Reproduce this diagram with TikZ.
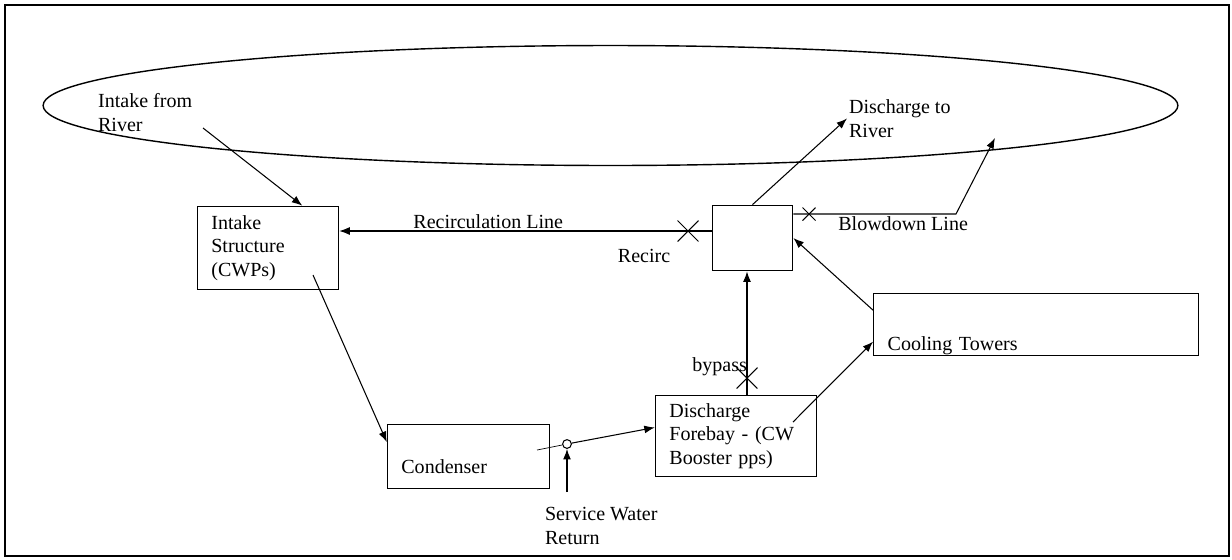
\documentclass[tikz,border=0pt]{standalone}
\usepackage{fontspec}
\setmainfont{Liberation Serif}
\usetikzlibrary{positioning,arrows.meta,shapes.misc}

\begin{document}
\begin{tikzpicture}[
  x=0.02cm, y=-0.02cm,
  txt/.style={font=\fontsize{11.4}{13.4}\selectfont, inner sep=1pt, align=left},
  unit/.style={rectangle, draw, line width=0.6pt, font=\fontsize{11.4}{13.4}\selectfont, align=left, inner xsep=8pt, inner ysep=2pt},
  valve/.style={cross out, draw, line width=0.6pt, inner sep=0pt, minimum size=#1},
  valve/.default=11.3pt,
  junction/.style={circle, draw, fill=white, line width=0.6pt, inner sep=0pt, minimum size=5pt},
  arr/.style={-{Latex[length=6pt,width=4.5pt]}, line width=0.6pt}
  ]
  \useasboundingbox (0,0) rectangle (1232,559);
  \draw[line width=0.7pt] (5,5) rectangle (1229,556);
  % river
  \draw[line width=0.8pt] (610.5,105.5) ellipse [x radius=11.35cm, y radius=1.2cm];

  \node[txt, anchor=west] (rivtxt) at (96,112.5) {Intake from\\River};
  \node[txt, anchor=west] (dtxt) at (847,118.5) {Discharge to\\River};

  \node[unit, minimum width=80.5pt, minimum height=47.6pt, text width=64.5pt] (intake) at (268,248) {Intake\\Structure\\(CWPs)};
  \node[unit, minimum width=92.4pt, minimum height=36.9pt, text width=76.4pt, text height=19.4pt, text depth=0pt] (cond) at (468.5,456.5) {Condenser};
  \node[unit, minimum width=91.8pt, minimum height=46.5pt, text width=75.8pt] (fore) at (736,436) {Discharge\\Forebay - (CW\\Booster pps)};
  \node[unit, minimum width=184.8pt, minimum height=35.7pt, text width=168.8pt, text height=30pt, text depth=0pt] (cool) at (1036,324.5) {Cooling Towers};
  \node[unit, minimum width=45.9pt, minimum height=37.4pt] (mix) at (752.5,238) {};

  \node[junction] (swc) at (567,444) {};
  \node[txt, anchor=west] (swtxt) at (543,526) {Service Water\\Return};

  \coordinate (rivin) at (203,128);
  \coordinate (cwout) at (313,275);
  \coordinate (cdout) at (537,450);
  \coordinate (swin) at (567,492);
  \coordinate (fbout) at (793,422);
  \coordinate (bdk) at (956,214);
  \coordinate (bdout) at (995,138);

  \draw[arr] (rivin) -- (intake.51);
  \draw[arr] (cwout) -- (cond.170);
  \draw (cdout) -- (swc);
  \draw[arr] (swc) -- (fore.174);
  \draw[arr] (swin) -- (swc);
  \draw[arr] (fbout) -- (cool.186);
  \draw[arr] (cool.175) -- (mix.east);
  \draw[arr] (mix.north) -- (dtxt.west);

  \node[valve] (xrec) at (688,231) {};
  \node[valve=6.8pt] (xbd) at (809,214) {};
  \node[valve] (xbp) at (747,378) {};
  \node[txt, below left=3pt and 3pt of xrec] (rectxt) {Recirc};
  \node[txt, anchor=east] (bptxt) at (749,367) {bypass};

  \draw[arr] (mix.west |- xrec) -- node[txt, above, pos=0.6] {Recirculation Line} (intake.east |- xrec);
  \draw[arr] (mix.east |- xbd) -- node[txt, below, pos=0.675] {Blowdown Line} (bdk) -- (bdout);
  \draw[arr] (xbp |- fore.north) -- (xbp |- mix.south);
\end{tikzpicture}
\end{document}
